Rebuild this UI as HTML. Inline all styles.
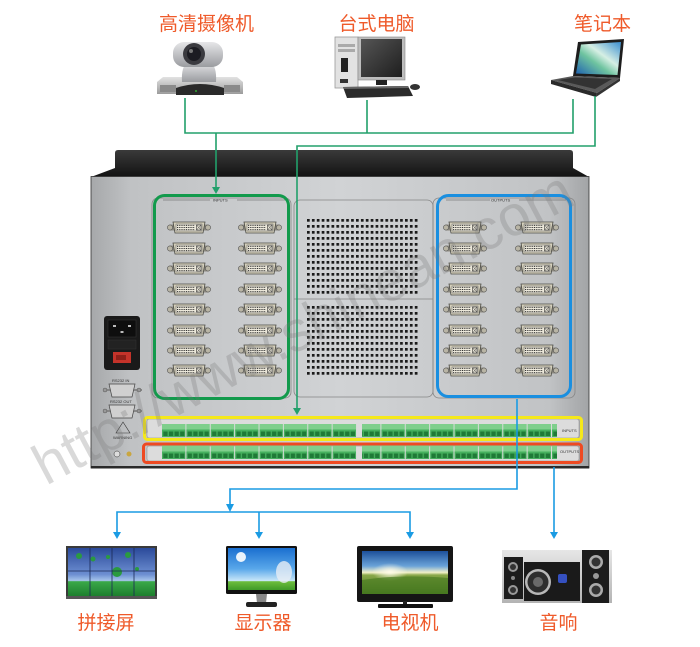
<!DOCTYPE html>
<html><head><meta charset="utf-8"><style>
html,body{margin:0;padding:0;background:#fff;}
body{width:700px;height:647px;overflow:hidden;}
svg{display:block;}
.lbl{font-family:"Liberation Sans","Noto Sans CJK SC",sans-serif;font-size:19px;fill:#ef5a2a;text-anchor:middle;}
.tiny{font-family:"Liberation Sans",sans-serif;font-size:4px;fill:#333;}
</style></head><body>
<svg width="700" height="647" viewBox="0 0 700 647">
<defs>
 <linearGradient id="panelG" x1="0" y1="0" x2="1" y2="0">
  <stop offset="0" stop-color="#a6a8aa"/><stop offset="0.08" stop-color="#c0c2c4"/>
  <stop offset="0.5" stop-color="#d1d3d5"/><stop offset="0.92" stop-color="#c1c3c5"/>
  <stop offset="1" stop-color="#a2a4a6"/>
 </linearGradient>
 <linearGradient id="topG" x1="0" y1="0" x2="0" y2="1">
  <stop offset="0" stop-color="#3a3a3a"/><stop offset="1" stop-color="#121212"/>
 </linearGradient>
 <linearGradient id="camHead" x1="0" y1="0" x2="0" y2="1">
  <stop offset="0" stop-color="#e6e6e8"/><stop offset="1" stop-color="#9a9ca0"/>
 </linearGradient>
 <linearGradient id="camBase" x1="0" y1="0" x2="0" y2="1">
  <stop offset="0" stop-color="#e2e2e2"/><stop offset="1" stop-color="#9c9c9c"/>
 </linearGradient>
 <linearGradient id="monScr" x1="0" y1="0" x2="1" y2="1">
  <stop offset="0" stop-color="#555"/><stop offset="1" stop-color="#1e1e1e"/>
 </linearGradient>
 <linearGradient id="lapScr" x1="0" y1="1" x2="1" y2="0">
  <stop offset="0" stop-color="#1c5fb0"/><stop offset="0.4" stop-color="#6fc4a0"/>
  <stop offset="0.6" stop-color="#d6efe4"/><stop offset="1" stop-color="#3a8ed0"/>
 </linearGradient>
 <linearGradient id="skyW" x1="0" y1="0" x2="0" y2="1">
  <stop offset="0" stop-color="#2b4a9a"/><stop offset="0.55" stop-color="#6d8fd2"/>
  <stop offset="0.68" stop-color="#a6c4ea"/><stop offset="0.7" stop-color="#3aa848"/>
  <stop offset="1" stop-color="#1d7f2e"/>
 </linearGradient>
 <linearGradient id="skyM" x1="0" y1="0" x2="0" y2="1">
  <stop offset="0" stop-color="#1a6fd0"/><stop offset="0.5" stop-color="#5aa8ea"/>
  <stop offset="0.78" stop-color="#c8e6f8"/><stop offset="0.8" stop-color="#6dbd3c"/>
  <stop offset="1" stop-color="#3f9a28"/>
 </linearGradient>
 <linearGradient id="skyT" x1="0" y1="0" x2="0" y2="1">
  <stop offset="0" stop-color="#1c4f9a"/><stop offset="0.35" stop-color="#6aa3d8"/>
  <stop offset="0.5" stop-color="#f2f0c8"/><stop offset="0.56" stop-color="#8aa84a"/>
  <stop offset="1" stop-color="#3d6e1a"/>
 </linearGradient>
 <radialGradient id="sunT" cx="0.5" cy="0.5" r="0.5">
  <stop offset="0" stop-color="#fffbe8"/><stop offset="1" stop-color="#fffbe8" stop-opacity="0"/>
 </radialGradient>
 <linearGradient id="spkBg" x1="0" y1="0" x2="0" y2="1">
  <stop offset="0" stop-color="#e6e6e6"/><stop offset="1" stop-color="#b4b4b4"/>
 </linearGradient>
 <pattern id="vent1" patternUnits="userSpaceOnUse" x="307" y="219" width="4.9" height="6">
  <rect width="2.7" height="2.7" fill="#1a1a1a"/>
 </pattern>
 <pattern id="vent2" patternUnits="userSpaceOnUse" x="307" y="306" width="4.9" height="6">
  <rect width="2.7" height="2.7" fill="#1a1a1a"/>
 </pattern>
 <pattern id="tbY" patternUnits="userSpaceOnUse" x="162" y="424" width="24.375" height="14">
  <rect width="23.4" height="13" fill="#46b05e"/>
  <rect width="23.4" height="5.5" fill="#7fcf8c"/>
  <rect x="1.3" y="7.5" width="4.3" height="4.5" fill="#1f7a37"/>
  <rect x="6.9" y="7.5" width="4.3" height="4.5" fill="#1f7a37"/>
  <rect x="12.5" y="7.5" width="4.3" height="4.5" fill="#1f7a37"/>
  <rect x="18.1" y="7.5" width="4.3" height="4.5" fill="#1f7a37"/>
 </pattern>
 <pattern id="tbR" patternUnits="userSpaceOnUse" x="162" y="445" width="24.375" height="15">
  <rect width="23.4" height="14" fill="#46b05e"/>
  <rect width="23.4" height="6.5" fill="#7fcf8c"/>
  <rect x="1.3" y="8.5" width="4.3" height="4.5" fill="#1f7a37"/>
  <rect x="6.9" y="8.5" width="4.3" height="4.5" fill="#1f7a37"/>
  <rect x="12.5" y="8.5" width="4.3" height="4.5" fill="#1f7a37"/>
  <rect x="18.1" y="8.5" width="4.3" height="4.5" fill="#1f7a37"/>
 </pattern>
 <symbol id="dvi" viewBox="0 0 44 13">
  <rect x="0.5" y="3.5" width="43" height="6" rx="3" fill="#8d8a80"/>
  <circle cx="3" cy="6.5" r="2.6" fill="#b9b5a5" stroke="#555" stroke-width="0.6"/>
  <circle cx="41" cy="6.5" r="2.6" fill="#b9b5a5" stroke="#555" stroke-width="0.6"/>
  <path d="M6,1 H38 L36,12 H8 Z" fill="#d6d1bd" stroke="#4a4a44" stroke-width="0.8"/>
  <rect x="9" y="3" width="26" height="7" fill="#ece8da" stroke="#555" stroke-width="0.5"/>
  <path d="M10,4.4H28M10,6.5H28M10,8.6H28" stroke="#333" stroke-width="1" stroke-dasharray="1 0.8"/>
  <rect x="29.5" y="4" width="4.5" height="5" fill="none" stroke="#333" stroke-width="0.6"/>
  <path d="M29.5,4L34,9M34,4L29.5,9" stroke="#333" stroke-width="0.5"/>
 </symbol>
</defs>

<!-- ===== top devices ===== -->
<text class="lbl" x="206.5" y="30">高清摄像机</text>
<text class="lbl" x="376.5" y="30">台式电脑</text>
<text class="lbl" x="602.5" y="30">笔记本</text>

<!-- camera -->
<path d="M157,82 L163,77 H237 L243,82 V94 H157Z" fill="url(#camBase)"/>
<rect x="160" y="85" width="16" height="7" fill="#8a8a8a"/>
<rect x="224" y="85" width="16" height="7" fill="#8a8a8a"/>
<path d="M176,88 Q200,80 224,88 V95 H176Z" fill="#2a2a2a"/>
<circle cx="196" cy="91" r="0.9" fill="#3c3"/>
<path d="M182,82 Q181,66 188,62 H210 Q217,66 216,82Z" fill="url(#camHead)"/>
<rect x="173" y="42" width="50" height="25" rx="11" fill="url(#camHead)"/>
<circle cx="194" cy="54" r="11" fill="#3b3b40"/>
<circle cx="194" cy="54" r="7" fill="#1c1c22"/>
<circle cx="191" cy="51" r="2" fill="#777"/>

<!-- desktop -->
<rect x="335" y="37" width="23" height="51" fill="#e2e2e2" stroke="#9a9a9a" stroke-width="0.8"/>
<rect x="338" y="44" width="17" height="3" fill="#aaa"/>
<rect x="338" y="49" width="17" height="3" fill="#aaa"/>
<rect x="341" y="58" width="7" height="14" fill="#222"/>
<rect x="340" y="79" width="8" height="4" fill="#333"/>
<rect x="358" y="37" width="47" height="43" fill="#bdbdbd" stroke="#888" stroke-width="0.6"/>
<rect x="361" y="39" width="41" height="38" fill="url(#monScr)"/>
<rect x="376" y="80" width="11" height="5" fill="#222"/>
<path d="M343,87 L408,86 L413,96 L347,98Z" fill="#2b2b2b"/>
<path d="M343,87 L408,86 L409,88 L344,89Z" fill="#666"/>
<ellipse cx="415" cy="87" rx="5" ry="3" fill="#333"/>

<!-- laptop -->
<path d="M578,42 L624,39 L620,78 L573,76Z" fill="#1d1d1d"/>
<path d="M581,44.5 L621,42 L617.5,75 L576,73.5Z" fill="url(#lapScr)"/>
<path d="M551,80 L573,76 L620,78 L597,93Z" fill="#5a5a5a"/>
<path d="M558,80 L575,77.5 L612,79 L595,89Z" fill="#333"/>
<path d="M551,80 L597,93 L596,97 L551,84Z" fill="#2a2a2a"/>
<path d="M597,93 L620,78 L620,81 L596,97Z" fill="#333"/>

<!-- ===== chassis ===== -->
<path d="M118,150 H570 Q573,150 573,153 V168 L589,177 H91 L115,168 V153 Q115,150 118,150Z" fill="url(#topG)"/>
<rect x="91" y="176.5" width="498" height="291.5" fill="url(#panelG)" stroke="#333" stroke-width="0.8"/>
<rect x="91" y="466" width="498" height="2.5" fill="#2a2a2a"/>

<!-- panel outlines -->
<rect x="152" y="198" width="139" height="200" rx="6" fill="none" stroke="#858585" stroke-width="0.8"/>
<rect x="294" y="200" width="139" height="197" rx="6" fill="none" stroke="#858585" stroke-width="0.8"/>
<line x1="294" y1="299" x2="433" y2="299" stroke="#858585" stroke-width="0.8"/>
<rect x="433" y="198" width="142" height="200" rx="6" fill="none" stroke="#858585" stroke-width="0.8"/>

<!-- vents -->
<rect x="307" y="219" width="111" height="75" fill="url(#vent1)"/>
<rect x="307" y="306" width="111" height="71" fill="url(#vent2)"/>

<!-- green input box -->
<rect x="154.5" y="195.5" width="134" height="203" rx="10" fill="none" stroke="#129a4c" stroke-width="3"/>
<path d="M163,200 H210 M237,200 H285" stroke="#555" stroke-width="0.6"/>
<text class="tiny" x="213" y="201.5">INPUTS</text>
<!-- blue output box -->
<rect x="437.5" y="195.5" width="133" height="201" rx="11" fill="none" stroke="#1a8fe0" stroke-width="3"/>
<path d="M446,200 H490 M519,200 H566" stroke="#555" stroke-width="0.6"/>
<text class="tiny" x="491" y="201.5">OUTPUTS</text>

<!-- DVI connectors -->
<use href="#dvi" x="167" y="221" width="44" height="13"/><use href="#dvi" x="238" y="221" width="44" height="13"/>
<use href="#dvi" x="167" y="242" width="44" height="13"/><use href="#dvi" x="238" y="242" width="44" height="13"/>
<use href="#dvi" x="167" y="262" width="44" height="13"/><use href="#dvi" x="238" y="262" width="44" height="13"/>
<use href="#dvi" x="167" y="283" width="44" height="13"/><use href="#dvi" x="238" y="283" width="44" height="13"/>
<use href="#dvi" x="167" y="303" width="44" height="13"/><use href="#dvi" x="238" y="303" width="44" height="13"/>
<use href="#dvi" x="167" y="324" width="44" height="13"/><use href="#dvi" x="238" y="324" width="44" height="13"/>
<use href="#dvi" x="167" y="344" width="44" height="13"/><use href="#dvi" x="238" y="344" width="44" height="13"/>
<use href="#dvi" x="167" y="364" width="44" height="13"/><use href="#dvi" x="238" y="364" width="44" height="13"/>

<use href="#dvi" x="443" y="221" width="44" height="13"/><use href="#dvi" x="515" y="221" width="44" height="13"/>
<use href="#dvi" x="443" y="242" width="44" height="13"/><use href="#dvi" x="515" y="242" width="44" height="13"/>
<use href="#dvi" x="443" y="262" width="44" height="13"/><use href="#dvi" x="515" y="262" width="44" height="13"/>
<use href="#dvi" x="443" y="283" width="44" height="13"/><use href="#dvi" x="515" y="283" width="44" height="13"/>
<use href="#dvi" x="443" y="303" width="44" height="13"/><use href="#dvi" x="515" y="303" width="44" height="13"/>
<use href="#dvi" x="443" y="324" width="44" height="13"/><use href="#dvi" x="515" y="324" width="44" height="13"/>
<use href="#dvi" x="443" y="344" width="44" height="13"/><use href="#dvi" x="515" y="344" width="44" height="13"/>
<use href="#dvi" x="443" y="364" width="44" height="13"/><use href="#dvi" x="515" y="364" width="44" height="13"/>

<!-- power inlet -->
<rect x="104" y="316" width="36" height="54" rx="3" fill="#1a1a1a"/>
<rect x="108" y="320" width="28" height="17" fill="#0e0e0e" stroke="#333" stroke-width="0.6"/>
<rect x="113" y="325" width="3" height="2" fill="#bbb"/><rect x="128" y="325" width="3" height="2" fill="#bbb"/>
<rect x="120.5" y="331" width="3" height="2" fill="#bbb"/>
<rect x="108" y="340" width="28" height="9" fill="#222" stroke="#333" stroke-width="0.5"/>
<rect x="113" y="352" width="18" height="11" fill="#c4332a"/>
<rect x="116" y="355" width="10" height="5" fill="#8e2019"/>

<!-- RS232 -->
<text class="tiny" x="112" y="382">RS232 IN</text>
<path d="M103,390 H142" stroke="#888" stroke-width="2"/>
<circle cx="105" cy="390" r="2" fill="#999" stroke="#555" stroke-width="0.5"/>
<circle cx="139" cy="390" r="2" fill="#999" stroke="#555" stroke-width="0.5"/>
<path d="M109,384 H135 L132,397 H112Z" fill="#d0d0d0" stroke="#444" stroke-width="0.7"/>
<text class="tiny" x="110" y="403">RS232 OUT</text>
<path d="M103,411 H142" stroke="#888" stroke-width="2"/>
<circle cx="105" cy="411" r="2" fill="#999" stroke="#555" stroke-width="0.5"/>
<circle cx="139" cy="411" r="2" fill="#999" stroke="#555" stroke-width="0.5"/>
<path d="M109,405 H135 L132,418 H112Z" fill="#d0d0d0" stroke="#444" stroke-width="0.7"/>
<path d="M123,422 L130,433 H116Z" fill="none" stroke="#333" stroke-width="0.6"/>
<text class="tiny" x="113" y="439">WARNING</text>
<circle cx="117" cy="454" r="3" fill="#ddd" stroke="#333" stroke-width="0.5"/>
<circle cx="129" cy="454" r="2.5" fill="#c9a640"/>

<!-- terminal rails -->
<rect x="147" y="419" width="432" height="19" rx="2" fill="#dcdcdc" stroke="#888" stroke-width="0.5"/>
<rect x="147" y="446" width="432" height="15" rx="2" fill="#dcdcdc" stroke="#888" stroke-width="0.5"/>
<rect x="162" y="424" width="195" height="13" fill="url(#tbY)"/>
<rect x="362" y="424" width="195" height="13" fill="url(#tbY)"/>
<rect x="162" y="445" width="195" height="14" fill="url(#tbR)"/>
<rect x="362" y="445" width="195" height="14" fill="url(#tbR)"/>
<text class="tiny" x="562" y="432">INPUTS</text>
<text class="tiny" x="560" y="453">OUTPUTS</text>
<rect x="144.5" y="417.5" width="437" height="22" rx="3" fill="none" stroke="#f5e81a" stroke-width="3"/>
<rect x="143.5" y="444" width="438" height="18.5" rx="3" fill="none" stroke="#ee4a22" stroke-width="3"/>

<!-- ===== connectors ===== -->
<g stroke="#22a06b" stroke-width="1.6" fill="none">
 <path d="M185,98 V133 H573 V99"/>
 <path d="M367,100 V133"/>
 <path d="M216,133 V188"/>
 <path d="M595,96 V146 H297 V409"/>
</g>
<path d="M212,187 L220,187 L216,194Z" fill="#22a06b"/>
<path d="M293,408 L301,408 L297,415Z" fill="#22a06b"/>

<g stroke="#1a9be3" stroke-width="1.6" fill="none">
 <path d="M517,399 V489 H230 V505"/>
 <path d="M117,533 V512 H410 V533"/>
 <path d="M259,512 V533"/>
 <path d="M554,467 V533"/>
</g>
<g fill="#1a9be3">
 <path d="M226,504 L234,504 L230,512Z"/>
 <path d="M113,532 L121,532 L117,539Z"/>
 <path d="M255,532 L263,532 L259,539Z"/>
 <path d="M406,532 L414,532 L410,539Z"/>
 <path d="M550,532 L558,532 L554,539Z"/>
</g>

<!-- ===== bottom devices ===== -->
<!-- splice wall -->
<rect x="66" y="546" width="91" height="53" fill="#3a3a3a"/>
<rect x="68" y="548" width="87" height="48" fill="url(#skyW)"/>
<g fill="#2a9a40">
 <circle cx="79" cy="556" r="3"/><circle cx="93" cy="559" r="2.5"/><circle cx="117" cy="572" r="5"/>
 <circle cx="128" cy="555" r="3"/><circle cx="108" cy="557" r="2"/><circle cx="137" cy="569" r="2"/>
</g>
<g stroke="#1b2a55" stroke-width="0.8">
 <path d="M90,548 V596 M112,548 V596 M134,548 V596 M68,571 H155"/>
</g>
<rect x="66" y="596" width="91" height="3" fill="#555"/>

<!-- monitor -->
<rect x="226" y="546" width="71" height="48" rx="1.5" fill="#111"/>
<rect x="228" y="548" width="67" height="42" fill="url(#skyM)"/>
<circle cx="241" cy="557" r="5" fill="#fff" opacity="0.9"/>
<ellipse cx="284" cy="572" rx="8" ry="11" fill="#e8eef5" opacity="0.8"/>
<path d="M256,594 H267 L266,603 H257Z" fill="#888"/>
<rect x="246" y="602" width="31" height="5" rx="2" fill="#222"/>

<!-- TV -->
<rect x="357" y="546" width="96" height="56" rx="2" fill="#151515"/>
<rect x="362" y="551" width="86" height="43" fill="url(#skyT)"/>
<ellipse cx="390" cy="572" rx="18" ry="9" fill="url(#sunT)"/>
<path d="M362,580 Q400,574 448,578 V594 H362Z" fill="#4c7e22" opacity="0.7"/>
<rect x="403" y="601" width="4" height="4" fill="#222"/>
<rect x="378" y="604" width="55" height="4" rx="1" fill="#111"/>

<!-- speakers -->
<rect x="502" y="550" width="110" height="53" fill="url(#spkBg)"/>
<rect x="504" y="557" width="19" height="42" fill="#1c1c1c"/>
<circle cx="513" cy="567" r="5" fill="#999"/><circle cx="513" cy="567" r="3" fill="#333"/>
<circle cx="513" cy="578" r="2" fill="#888"/>
<circle cx="513" cy="590" r="5" fill="#999"/><circle cx="513" cy="590" r="3" fill="#333"/>
<rect x="524" y="562" width="56" height="39" fill="#1a1a1a"/>
<circle cx="538" cy="582" r="13" fill="#b8b8b8"/>
<circle cx="538" cy="582" r="10.5" fill="#2e2e2e"/>
<circle cx="538" cy="582" r="5" fill="#6a6a6a"/>
<rect x="558" y="574" width="9" height="9" rx="2" fill="#3550c0"/>
<rect x="582" y="550" width="27" height="53" fill="#1c1c1c"/>
<circle cx="596" cy="562" r="7" fill="#aaa"/><circle cx="596" cy="562" r="4.5" fill="#333"/>
<circle cx="596" cy="576" r="3" fill="#999"/>
<circle cx="596" cy="590" r="7" fill="#aaa"/><circle cx="596" cy="590" r="4.5" fill="#333"/>

<text class="lbl" x="106" y="629">拼接屏</text>
<text class="lbl" x="263" y="629">显示器</text>
<text class="lbl" x="410" y="629">电视机</text>
<text class="lbl" x="558.5" y="629">音响</text>

<!-- watermark -->
<text transform="translate(46,486) rotate(-28)" x="0" y="0" font-family="Liberation Sans, sans-serif" font-size="57" fill="#777" fill-opacity="0.28">http://www.shinean.com</text>
</svg>
</body></html>
